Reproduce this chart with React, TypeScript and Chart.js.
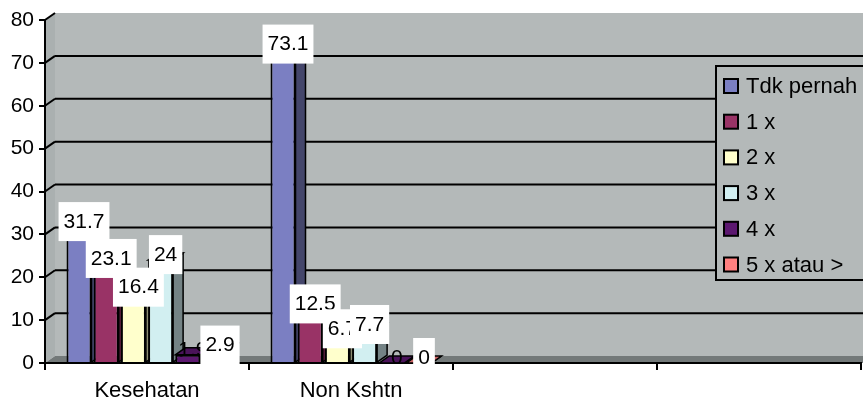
import React, { useEffect, useRef } from 'react';
import { Chart, registerables } from 'chart.js';

Chart.register(...registerables);

// ---- data ----
const categories = ['Kesehatan', 'Non Kshtn', '', ''];
const seriesNames = ['Tdk pernah', '1 x', '2 x', '3 x', '4 x', '5 x atau >'];
const tdkPernah = [31.7, 73.1, null, null];
const satuX = [23.1, 12.5, null, null];
const duaX = [16.4, 6.7, null, null];
const tigaX = [24, 7.7, null, null];
const empatX = [1.9, 0, null, null];
const limaX = [2.9, 0, null, null];
const yTicks = [0, 10, 20, 30, 40, 50, 60, 70, 80];

// ---- styles ----
const seriesColors = ['#7b7fc2', '#993366', '#ffffcc', '#d2eff1', '#5c1870', '#ff8080'];
const labelBoxed = [true, true, true, true, false, true];
const FONT = '"Liberation Sans", Arial, sans-serif';
const DX = 10;
const DY = 7;

function shade(hex: string, f: number) {
  const n = parseInt(hex.slice(1), 16);
  const r = Math.round(((n >> 16) & 255) * f);
  const g = Math.round(((n >> 8) & 255) * f);
  const b = Math.round((n & 255) * f);
  return `rgb(${r},${g},${b})`;
}

function poly(ctx: CanvasRenderingContext2D, pts: number[][]) {
  ctx.beginPath();
  ctx.moveTo(pts[0][0], pts[0][1]);
  for (let i = 1; i < pts.length; i++) ctx.lineTo(pts[i][0], pts[i][1]);
  ctx.closePath();
}

const excel3d = {
  id: 'excel3d',
  beforeDraw(chart: any) {
    const { ctx, chartArea: a, scales } = chart;
    const y = scales.y;
    const y0 = y.getPixelForValue(0);
    const yTop = y.getPixelForValue(80);
    ctx.save();
    ctx.fillStyle = '#ffffff';
    ctx.fillRect(0, 0, chart.width, chart.height);
    // back wall
    ctx.fillStyle = '#b4b9b9';
    ctx.fillRect(a.left + DX, yTop - DY, a.right - a.left + 20, y0 - yTop);
    // side wall
    ctx.fillStyle = '#aab0b0';
    poly(ctx, [[a.left, yTop], [a.left + DX, yTop - DY], [a.left + DX, y0 - DY], [a.left, y0]]);
    ctx.fill();
    // floor
    ctx.fillStyle = '#737979';
    poly(ctx, [[a.left, y0], [a.left + DX, y0 - DY], [a.right + 20, y0 - DY], [a.right + 20, y0]]);
    ctx.fill();
    // grid lines
    ctx.strokeStyle = '#000';
    ctx.lineWidth = 2;
    for (const v of yTicks) {
      const py = y.getPixelForValue(v);
      if (v > 0 && v < 80) {
        ctx.beginPath();
        ctx.moveTo(a.left + DX, py - DY);
        ctx.lineTo(a.right + 20, py - DY);
        ctx.stroke();
      }
      if (v > 0) {
        ctx.beginPath();
        ctx.moveTo(a.left, py);
        ctx.lineTo(a.left + DX, py - DY);
        ctx.stroke();
      }
    }
    ctx.restore();
  },
  beforeDatasetsDraw(chart: any) {
    const { ctx } = chart;
    ctx.save();
    ctx.strokeStyle = '#000';
    ctx.lineWidth = 1.5;
    chart.data.datasets.forEach((ds: any, i: number) => {
      const meta = chart.getDatasetMeta(i);
      meta.data.forEach((el: any, j: number) => {
        if (ds.data[j] == null) return;
        const { x, y, base, width } = el.getProps(['x', 'y', 'base', 'width'], true);
        const l = x - width / 2;
        const r = x + width / 2;
        // side face
        ctx.fillStyle = shade(seriesColors[i], 0.55);
        poly(ctx, [[r, y], [r + DX, y - DY], [r + DX, base - DY], [r, base]]);
        ctx.fill();
        ctx.stroke();
        // top face
        ctx.fillStyle = shade(seriesColors[i], 0.8);
        poly(ctx, [[l, y], [l + DX, y - DY], [r + DX, y - DY], [r, y]]);
        ctx.fill();
        ctx.stroke();
      });
    });
    ctx.restore();
  },
  afterDatasetsDraw(chart: any) {
    const { ctx } = chart;
    ctx.save();
    ctx.font = `21px ${FONT}`;
    ctx.textAlign = 'center';
    ctx.textBaseline = 'middle';
    chart.data.datasets.forEach((ds: any, i: number) => {
      const meta = chart.getDatasetMeta(i);
      meta.data.forEach((el: any, j: number) => {
        const v = ds.data[j];
        if (v == null) return;
        const { x, y } = el.getProps(['x', 'y'], true);
        const txt = String(v);
        const w = ctx.measureText(txt).width;
        const cx = x + 5;
        const cy = y - 6;
        if (labelBoxed[i]) {
          ctx.fillStyle = '#ffffff';
          ctx.fillRect(cx - w / 2 - 5, cy - 19, w + 10, 39);
        }
        ctx.fillStyle = '#000000';
        ctx.fillText(txt, cx, cy + 1);
      });
    });
    // legend
    const lx = 716;
    const ly = 66;
    ctx.font = `22px ${FONT}`;
    ctx.fillStyle = '#b4b9b9';
    ctx.fillRect(lx, ly, 170, 214);
    ctx.strokeStyle = '#000';
    ctx.lineWidth = 2;
    ctx.strokeRect(lx, ly, 170, 214);
    ctx.textAlign = 'left';
    seriesNames.forEach((name, i) => {
      const cy = ly + 20 + i * 35.7;
      ctx.fillStyle = seriesColors[i];
      ctx.fillRect(lx + 8, cy - 7, 14, 14);
      ctx.strokeStyle = '#000';
      ctx.lineWidth = 2;
      ctx.strokeRect(lx + 8, cy - 7, 14, 14);
      ctx.fillStyle = '#000';
      ctx.fillText(name, lx + 30, cy + 1);
    });
    ctx.restore();
  },
};

export default function App() {
  const ref = useRef<HTMLCanvasElement | null>(null);
  useEffect(() => {
    if (!ref.current) return;
    const sets = [tdkPernah, satuX, duaX, tigaX, empatX, limaX];
    const chart = new Chart(ref.current, {
      type: 'bar',
      data: {
        labels: categories,
        datasets: sets.map((d, i) => ({
          label: seriesNames[i],
          data: d as any,
          backgroundColor: seriesColors[i],
          borderColor: '#000',
          borderWidth: 2,
          categoryPercentage: 0.8,
          barPercentage: 0.92,
        })),
      },
      options: {
        animation: false,
        responsive: false,
        devicePixelRatio: 1,
        layout: { padding: { top: 20, right: 2, left: 0, bottom: 0 } },
        plugins: { legend: { display: false }, tooltip: { enabled: false } },
        scales: {
          x: {
            afterFit: (s: any) => { s.height = 36; },
            grid: { drawOnChartArea: false, color: '#000', lineWidth: 2, tickLength: 7, offset: true },
            border: { display: true, color: '#000', width: 2 },
            ticks: { color: '#000', font: { family: FONT, size: 22 }, padding: 8, maxRotation: 0 },
          },
          y: {
            min: 0,
            max: 80,
            afterFit: (s: any) => { s.width = 45; },
            afterBuildTicks: (s: any) => { s.ticks = yTicks.map((v) => ({ value: v })); },
            grid: { drawOnChartArea: false, color: '#000', lineWidth: 2, tickLength: 6 },
            border: { display: true, color: '#000', width: 2 },
            ticks: { color: '#000', font: { family: FONT, size: 21 }, padding: 5 },
          },
        },
      },
      plugins: [excel3d],
    });
    return () => chart.destroy();
  }, []);
  return (
    <div style={{ position: 'fixed', left: 0, top: 0, width: 863, height: 399, background: '#fff' }}>
      <canvas ref={ref} width={863} height={399} />
    </div>
  );
}
